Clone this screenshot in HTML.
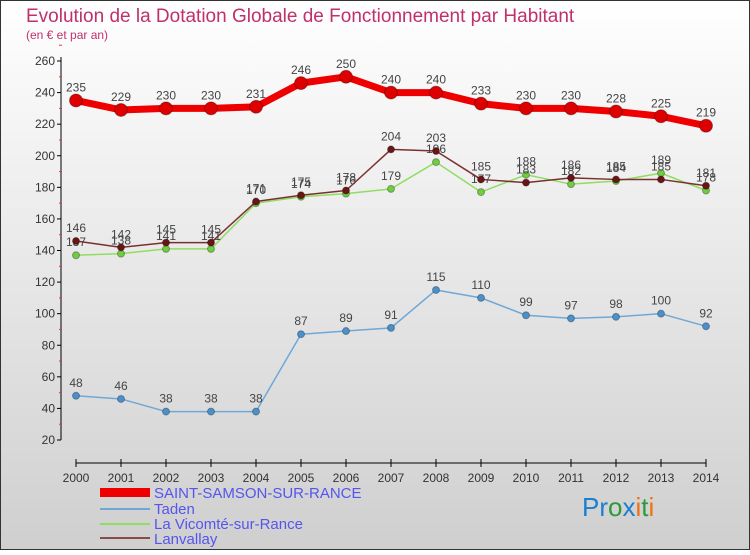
<!DOCTYPE html>
<html><head><meta charset="utf-8"><style>
body{margin:0}
#c{width:750px;height:550px;position:relative;font-family:"Liberation Sans",sans-serif;}
</style></head><body>
<div id="c">
<svg width="750" height="550" xmlns="http://www.w3.org/2000/svg">
<defs><linearGradient id="bg" x1="0" y1="0" x2="0" y2="1"><stop offset="0" stop-color="#ffffff"/><stop offset="1" stop-color="#cfcfcf"/></linearGradient></defs>
<rect x="0.5" y="0.5" width="749" height="549" fill="url(#bg)" stroke="#333"/>
<text x="26" y="22" font-size="19" fill="#c0306a">Evolution de la Dotation Globale de Fonctionnement par Habitant</text>
<text x="26" y="39" font-size="12" fill="#c0306a">(en € et par an)</text>
<g id="axes"></g>
<g id="series"></g>
<g id="legend" font-size="15" fill="#5555ee">
<rect x="100" y="488" width="50" height="9" fill="#e00"/>
<text x="154" y="498">SAINT-SAMSON-SUR-RANCE</text>
<rect x="100" y="508" width="50" height="2" fill="#6fa8d6"/>
<text x="154" y="514">Taden</text>
<rect x="100" y="523" width="50" height="2" fill="#90dd60"/>
<text x="154" y="529">La Vicomté-sur-Rance</text>
<rect x="100" y="537" width="50" height="2" fill="#8a4a4a"/>
<text x="154" y="544">Lanvallay</text>
</g>
<text x="582" y="516" font-size="26"><tspan fill="#1a7fd0">Pr</tspan><tspan fill="#2a9a3a">o</tspan><tspan fill="#1a7fd0">x</tspan><tspan fill="#f07010">i</tspan><tspan fill="#2a9a3a">t</tspan><tspan fill="#f07010">i</tspan></text>
</svg>
</div>
<script>
const years=[2000,2001,2002,2003,2004,2005,2006,2007,2008,2009,2010,2011,2012,2013,2014];
const yTicks=[20,40,60,80,100,120,140,160,180,200,220,240,260];
const saintSamson=[235,229,230,230,231,246,250,240,240,233,230,230,228,225,219];
const taden=[48,46,38,38,38,87,89,91,115,110,99,97,98,100,92];
const vicomte=[137,138,141,141,170,174,176,179,196,177,188,182,184,189,178];
const lanvallay=[146,142,145,145,171,175,178,204,203,185,183,186,185,185,181];
const NS="http://www.w3.org/2000/svg";
function X(i){return 76+i*45;}
function Y(v){return 440-(v-20)*379/240;}
function mk(t,a,p){const e=document.createElementNS(NS,t);for(const k in a)e.setAttribute(k,a[k]);p.appendChild(e);return e;}
const ax=document.getElementById('axes');
let l=mk('line',{x1:61,y1:Y(260)-4,x2:61,y2:440,stroke:'#000'},ax);


yTicks.forEach(v=>{
  mk('line',{x1:57,x2:61,y1:Y(v),y2:Y(v),stroke:'#000'},ax);
  mk('line',{x1:59,x2:62,y1:Y(v+10),y2:Y(v+10),stroke:'#e33'},ax);
  const t=mk('text',{x:55,y:Y(v)+4,'font-size':12,'text-anchor':'end',fill:'#333'},ax);
  t.textContent=v;
  
  
});
l=mk('line',{x1:X(0),y1:463,x2:X(14),y2:463,stroke:'#000'},ax);


years.forEach((y,i)=>{
  mk('line',{x1:X(i),x2:X(i),y1:459,y2:467,stroke:'#000'},ax);
  const t=mk('text',{x:X(i),y:482,'font-size':12,'text-anchor':'middle',fill:'#333'},ax);
  t.textContent=y;
  
  
});
const sg=document.getElementById('series');
function draw(name,data,color,w,r,dot,fs){
  const g=mk('g',{},sg);
  
  
  mk('polyline',{points:data.map((v,i)=>X(i)+','+Y(v)).join(' '),fill:'none',stroke:color,'stroke-width':w,'stroke-linejoin':'round'},g);
  data.forEach((v,i)=>{
    const c=mk('circle',{cx:X(i),cy:Y(v),r:r,fill:dot,stroke:'rgba(0,0,0,0.3)','stroke-width':1},g);
    
    
    const t=mk('text',{x:X(i),y:Y(v)-9,'font-size':fs,'text-anchor':'middle',fill:'#444'},g);
    t.textContent=v;
    
    
  });
}
draw('taden',taden,'#6fa8d6',1.5,3.5,'#4a90cc',12);
draw('vicomte',vicomte,'#90dd60',1.5,3.5,'#70cc40',12);
draw('lanvallay',lanvallay,'#7a3030',1.5,3.5,'#6a1515',12);
draw('saint-samson',saintSamson,'#ee0000',7,6.5,'#dd0000',12);
</script>
</body></html>
